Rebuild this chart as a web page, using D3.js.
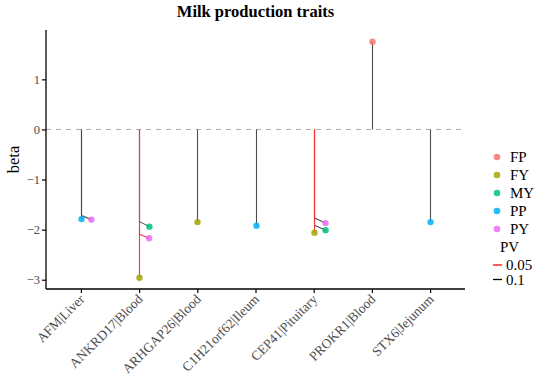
<!DOCTYPE html>
<html><head><meta charset="utf-8">
<script src="https://cdn.jsdelivr.net/npm/d3@7"></script>
<style>body{margin:0;background:#fff}svg{display:block}text{font-family:"Liberation Serif","Times New Roman",serif}</style>
</head><body><svg id="c" width="535" height="377"></svg>
<script>
const categories = ["AFM|Liver","ANKRD17|Blood","ARHGAP26|Blood","C1H21orf62|Ileum","CEP41|Pituitary","PROKR1|Blood","STX6|Jejunum"];
const traits = ["FP","FY","MY","PP","PY"];
const traitColors = ["#F8766D","#A3A500","#00BF7D","#00B0F6","#E76BF3"];
const pvLevels = ["0.05","0.1"];
const pvColors = ["#ff0000","#000000"];
const yTicks = [-3,-2,-1,0,1];

// each point: gene, trait, beta (stem end), shown beta (repelled point), category shift, PV
const pointGene  = ["AFM|Liver","AFM|Liver","ANKRD17|Blood","ANKRD17|Blood","ANKRD17|Blood","ARHGAP26|Blood","C1H21orf62|Ileum","CEP41|Pituitary","CEP41|Pituitary","CEP41|Pituitary","PROKR1|Blood","STX6|Jejunum"];
const pointTrait = ["PP","PY","FY","MY","PY","FY","PP","FY","PY","MY","FP","PP"];
const pointBeta  = [-1.72,-1.72,-2.96,-1.84,-2.09,-1.85,-1.92,-2.06,-1.77,-1.91,1.75,-1.85];
const pointShown = [-1.79,-1.80,-2.96,-1.94,-2.17,-1.85,-1.92,-2.06,-1.87,-2.01,1.75,-1.85];
const pointShift = [0,0.17,0,0.17,0.165,0,0,0,0.19,0.19,0,0];
const pointPV    = ["0.1","0.1","0.05","0.1","0.05","0.1","0.1","0.05","0.1","0.1","0.1","0.1"];

const pts = pointGene.map((g,i)=>({gene:g,trait:pointTrait[i],beta:pointBeta[i],shown:pointShown[i],shift:pointShift[i],pv:pointPV[i]}));

const FONT = "Liberation Serif, Times New Roman, serif";
const svg = d3.select("#c");
const L=46, R=465, T=30, B=289;
const x = d3.scalePoint().domain(categories).range([L,R]).padding(0.6);
const step = x.step();
const xc = g => Math.round(x(g)) + 0.5;
const y = d3.scaleLinear().domain([-3.185,1.985]).range([B,T]);
const col = d3.scaleOrdinal().domain(traits).range(traitColors);
const pvc = d3.scaleOrdinal().domain(pvLevels).range(pvColors);
const markPv = p => d3.interpolateRgb("#ffffff", pvc(p))(p==="0.05"?0.8:0.7);

// zero line
svg.append("line").attr("x1",L).attr("x2",R).attr("y1",y(0)).attr("y2",y(0))
  .attr("stroke","#aaaaaa").attr("stroke-width",1).attr("stroke-dasharray","5,5");

// stems (black first, red on top)
const order = pts.slice().sort((a,b)=>(a.pv==="0.05")-(b.pv==="0.05"));
svg.append("g").selectAll("line").data(order).join("line")
  .attr("x1",d=>xc(d.gene)).attr("x2",d=>xc(d.gene))
  .attr("y1",y(0)).attr("y2",d=>y(d.beta))
  .attr("stroke",d=>markPv(d.pv)).attr("stroke-width",1.1);
// repel segments
svg.append("g").selectAll("line").data(pts.filter(d=>d.shift!==0||d.shown!==d.beta)).join("line")
  .attr("x1",d=>xc(d.gene)).attr("y1",d=>y(d.beta))
  .attr("x2",d=>xc(d.gene)+d.shift*step).attr("y2",d=>y(d.shown))
  .attr("stroke",d=>markPv(d.pv)).attr("stroke-width",1.1);
// points
svg.append("g").selectAll("circle").data(pts).join("circle")
  .attr("cx",d=>xc(d.gene)+d.shift*step).attr("cy",d=>y(d.shown)).attr("r",3.2)
  .attr("fill",d=>col(d.trait)).attr("fill-opacity",0.85);

// axes
const ya = svg.append("g").attr("transform",`translate(${L},0)`)
  .call(d3.axisLeft(y).tickValues(yTicks).tickSize(4).tickFormat(d=>d<0?"\u2212"+Math.abs(d):d));
ya.attr("font-family",FONT);
ya.select(".domain").attr("stroke","#000").attr("stroke-width",1.3).attr("d",`M0,${T}V${B}`);
ya.selectAll(".tick line").attr("stroke","#000").attr("stroke-width",1.2);
ya.selectAll(".tick text").attr("font-family",FONT).attr("font-size",12.5).attr("fill","#4d4d4d").attr("x",-6);

const xa = svg.append("g").attr("transform",`translate(0,${B})`)
  .call(d3.axisBottom(x).tickSize(4));
xa.attr("font-family",FONT);
xa.select(".domain").attr("stroke","#000").attr("stroke-width",1.3).attr("d",`M${L},0H${R}`);
xa.selectAll(".tick line").attr("stroke","#000").attr("stroke-width",1.2);
xa.selectAll(".tick text").attr("font-family",FONT).attr("font-size",13.5).attr("fill","#4d4d4d")
  .attr("text-anchor","end").attr("dy",0).attr("y",0)
  .attr("transform","translate(4,11) rotate(-45)");

// title & label
svg.append("text").attr("x",(L+R)/2).attr("y",17).attr("text-anchor","middle").attr("font-family",FONT)
  .attr("font-weight","bold").attr("font-size",16.5).text("Milk production traits");
svg.append("text").attr("transform",`translate(19,${(T+B)/2}) rotate(-90)`).attr("text-anchor","middle")
  .attr("font-family",FONT).attr("font-size",16.5).text("beta");

// legend
const lg = svg.append("g").attr("font-family",FONT);
traits.forEach((t,i)=>{
  const yy = 157 + i*18;
  lg.append("circle").attr("cx",497).attr("cy",yy).attr("r",3.3).attr("fill",col(t)).attr("fill-opacity",0.85);
  lg.append("text").attr("x",510).attr("y",yy+5).attr("font-family",FONT).attr("font-size",15).text(t);
});
lg.append("text").attr("x",500).attr("y",252).attr("font-family",FONT).attr("font-size",15).text("PV");
pvLevels.forEach((p,i)=>{
  const yy = 265 + i*14.5;
  lg.append("line").attr("x1",493).attr("x2",502).attr("y1",yy).attr("y2",yy).attr("stroke",pvc(p)).attr("stroke-width",1.3);
  lg.append("text").attr("x",506).attr("y",yy+5).attr("font-family",FONT).attr("font-size",15).text(p);
});
</script></body></html>
